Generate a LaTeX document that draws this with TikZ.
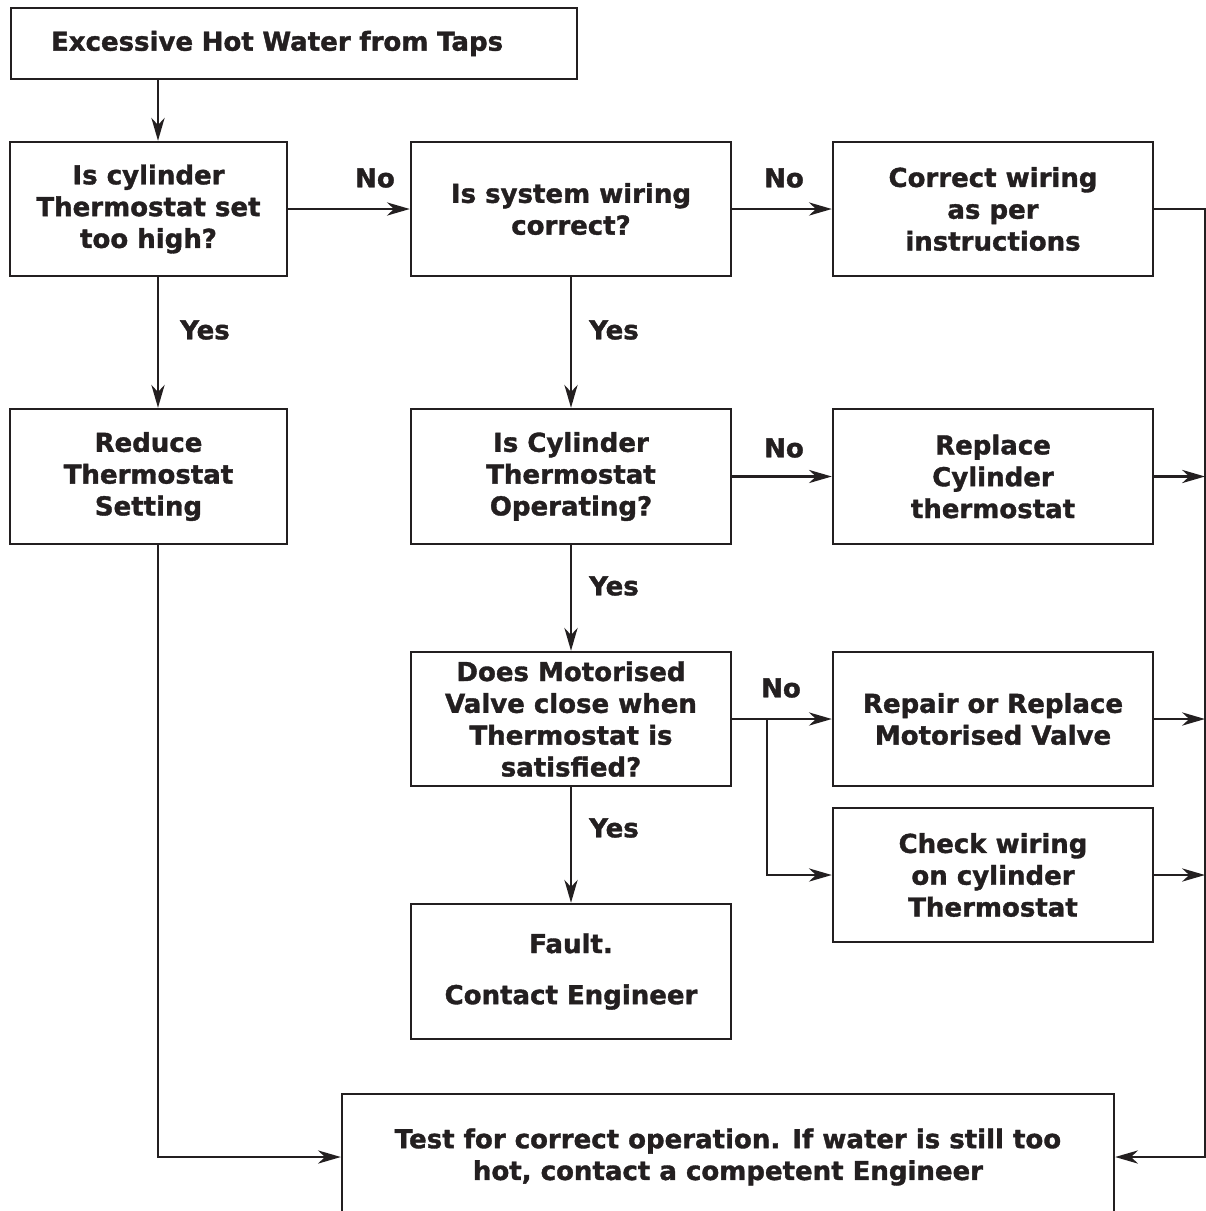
\documentclass[tikz,border=0pt]{standalone}
\usepackage{fontspec}
\setmainfont{DejaVu Sans}[BoldFeatures={FakeBold=1.4}]
\usetikzlibrary{arrows.meta,calc}
\definecolor{ink}{HTML}{231F20}
\newcommand{\boxfont}{\fontsize{14.8pt}{18.1pt}\selectfont\bfseries}
\tikzset{
  box/.style={draw=ink, line width=1.4pt, text=ink, align=center, inner sep=0pt,
    minimum width=6.4cm, minimum height=2.68cm, font=\boxfont},
  lbl/.style={text=ink, inner sep=0pt, font=\boxfont},
  arr/.style={draw=ink, line width=1.4pt, -{Stealth[length=13pt,width=7.5pt,inset=4pt]}},
  wire/.style={draw=ink, line width=1.4pt}
}

\begin{document}
\begin{tikzpicture}[x=0.02cm, y=-0.02cm]
\useasboundingbox (0,0) rectangle (1206,1211);

\node[box, minimum width=11.32cm, minimum height=1.42cm, text width=9.72cm, align=left] (taps) at (294,43.5) {Excessive Hot Water from Taps};

\node[box, minimum width=5.54cm] (q1) at (148.5,209) {Is cylinder\\ Thermostat set\\ too high?};
\node[box] (q2) at (571,209) {Is system wiring\\ correct?};
\node[box] (c1) at (993,209) {Correct wiring\\ as per\\ instructions};

\node[box, minimum width=5.54cm, minimum height=2.7cm] (reduce) at (148.5,476.5) {Reduce\\ Thermostat\\ Setting};
\node[box, minimum height=2.7cm] (q3) at (571,476.5) {Is Cylinder\\ Thermostat\\ Operating?};
\node[box, minimum height=2.7cm] (r1) at (993,476.5) {Replace\\ Cylinder\\ thermostat};

\node[box] (q4) at (571,719) {Does Motorised\\ Valve close when\\ Thermostat is\\ satisfied?};
\node[box] (r2) at (993,719) {Repair or Replace\\ Motorised Valve};
\node[box] (r3) at (993,875) {Check wiring\\ on cylinder\\ Thermostat};

\node[box, minimum height=2.7cm] (fault) at (571,971.5) {Fault.\\[11pt] Contact Engineer};

\node[box, minimum width=15.44cm, minimum height=2.52cm] (test) at (728,1157) {Test for correct operation. If water is still too\\ hot, contact a competent Engineer};

\node[lbl] (no1) at (375,178) {No};
\node[lbl] (no2) at (784,178) {No};
\node[lbl] (no3) at (784,448) {No};
\node[lbl] (no4) at (781,688) {No};
\node[lbl] (yes1) at (205,330) {Yes};
\node[lbl] (yes2) at (614,330) {Yes};
\node[lbl] (yes3) at (614,586) {Yes};
\node[lbl] (yes4) at (614,828) {Yes};

\coordinate (spine) at (158,0);
\coordinate (rail) at (1205,209);
\coordinate (fork) at ($(q4.east)!0.35!(r2.west)$);

\draw[arr] (taps.south -| spine) -- (q1.north -| spine);
\draw[arr] (q1.east) -- (q2.west);
\draw[arr] (q2.east) -- (c1.west);
\draw[arr] (q1.south -| spine) -- (reduce.north -| spine);
\draw[arr] (q2.south) -- (q3.north);
\draw[arr] (q3.east) -- (r1.west);
\draw[arr] (q3.south) -- (q4.north);
\draw[arr] (q4.east) -- (r2.west);
\draw[arr] (fork) |- (r3.west);
\draw[arr] (q4.south) -- (fault.north);
\draw[arr] (reduce.south -| spine) |- (test.west);
\draw[arr] (c1.east) -- (rail) |- (test.east);
\draw[arr] (r1.east) -- (r1.east -| rail);
\draw[arr] (r2.east) -- (r2.east -| rail);
\draw[arr] (r3.east) -- (r3.east -| rail);
\end{tikzpicture}
\end{document}
